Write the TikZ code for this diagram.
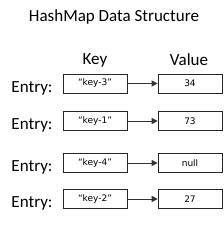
\documentclass[tikz,border=0pt]{standalone}
\usepackage{fontspec}
\setmainfont{Carlito}
\newfontfamily\boxfont{DejaVu Sans}
\usetikzlibrary{arrows.meta}

\tikzset{
  cell/.style={draw=black!85, line width=0.7pt, minimum width=64pt, minimum height=19pt,
    inner sep=0pt, font=\boxfont\fontsize{9}{10}\selectfont},
  entrylabel/.style={font=\fontsize{17}{19}\selectfont, inner sep=0pt},
  link/.style={draw=black!80, line width=0.8pt, -{Triangle[length=6pt,width=6pt]}}
}

\begin{document}
\begin{tikzpicture}[x=1pt, y=-1pt] % one unit = one pixel, y runs down
    \useasboundingbox (0, 0) rectangle (224, 225);

    % Title and column heads
    \node[entrylabel] (title) at (114, 17) {HashMap Data Structure};
    \node[entrylabel] (keyhead) at (95, 60) {Key};
    \node[entrylabel] (valhead) at (189, 60) {Value};

    % Entry 1
    \node[entrylabel] (e1) at (32, 88) {Entry:};
    \node[cell] (k3) at (95, 83.5) {“key-3”};
    \node[cell] (v34) at (190, 83.5) {34};
    \draw[link] (k3) -- (v34);

    % Entry 2
    \node[entrylabel] (e2) at (32, 125.5) {Entry:};
    \node[cell] (k1) at (95, 121) {“key-1”};
    \node[cell] (v73) at (190, 121) {73};
    \draw[link] (k1) -- (v73);

    % Entry 3
    \node[entrylabel] (e3) at (32, 167.5) {Entry:};
    \node[cell] (k4) at (95, 163) {“key-4”};
    \node[cell] (vnull) at (190, 163) {null};
    \draw[link] (k4) -- (vnull);

    % Entry 4
    \node[entrylabel] (e4) at (32, 203.5) {Entry:};
    \node[cell] (k2) at (95, 199) {“key-2”};
    \node[cell] (v27) at (190, 199) {27};
    \draw[link] (k2) -- (v27);

\end{tikzpicture}
\end{document}
